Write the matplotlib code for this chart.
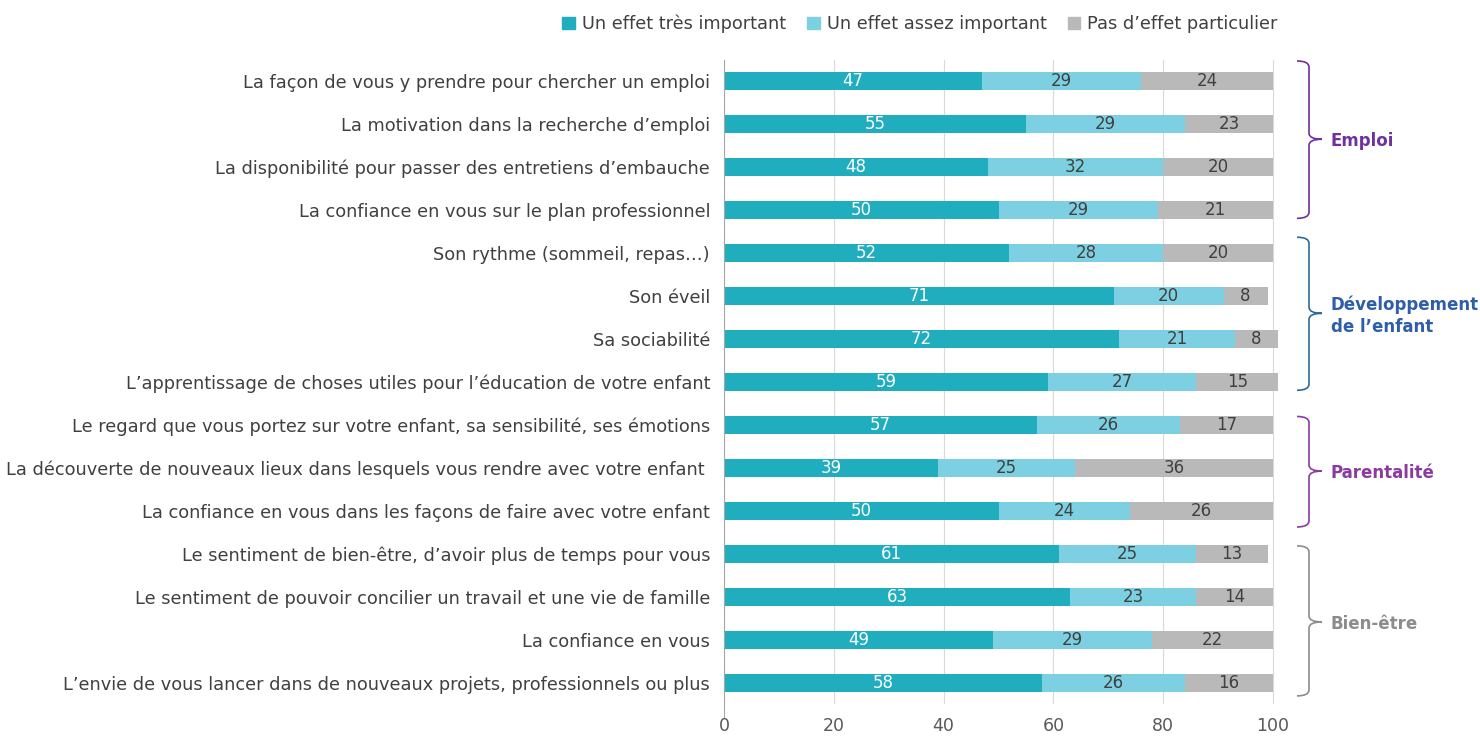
import matplotlib.pyplot as plt
import matplotlib.transforms as mtransforms
from matplotlib.path import Path
from matplotlib.patches import PathPatch, Patch

# Données
categories = [
    "La façon de vous y prendre pour chercher un emploi",
    "La motivation dans la recherche d\u2019emploi",
    "La disponibilité pour passer des entretiens d\u2019embauche",
    "La confiance en vous sur le plan professionnel",
    "Son rythme (sommeil, repas\u2026)",
    "Son éveil",
    "Sa sociabilité",
    "L\u2019apprentissage de choses utiles pour l\u2019éducation de votre enfant",
    "Le regard que vous portez sur votre enfant, sa sensibilité, ses émotions",
    "La découverte de nouveaux lieux dans lesquels vous rendre avec votre enfant ",
    "La confiance en vous dans les façons de faire avec votre enfant",
    "Le sentiment de bien-être, d\u2019avoir plus de temps pour vous",
    "Le sentiment de pouvoir concilier un travail et une vie de famille",
    "La confiance en vous",
    "L\u2019envie de vous lancer dans de nouveaux projets, professionnels ou plus",
]
tres_important = [47, 55, 48, 50, 52, 71, 72, 59, 57, 39, 50, 61, 63, 49, 58]
assez_important = [29, 29, 32, 29, 28, 20, 21, 27, 26, 25, 24, 25, 23, 29, 26]
pas_effet = [24, 16, 20, 21, 20, 8, 8, 15, 17, 36, 26, 13, 14, 22, 16]
# étiquettes affichées (la 2e ligne porte "23" dans l'original)
pas_effet_labels = [24, 23, 20, 21, 20, 8, 8, 15, 17, 36, 26, 13, 14, 22, 16]

series_names = ["Un effet très important", "Un effet assez important", "Pas d\u2019effet particulier"]
couleurs = ["#20adbe", "#7dd0e1", "#b9b9b9"]

# nom, haut, bas, pointe (en unités de lignes), couleur texte, couleur accolade
groupes = [("Emploi", -0.47, 3.19, 1.35, "#7030a0", "#7030a0"),
           ("Développement\nde l\u2019enfant", 3.63, 7.19, 5.4, "#2e5ea8", "#2e6b96"),
           ("Parentalité", 7.8, 10.37, 9.07, "#8b3aa0", "#8b3aa0"),
           ("Bien-être", 10.81, 14.3, 12.58, "#8c8c8c", "#8c8c8c")]

plt.rcParams['font.family'] = ['DejaVu Sans']

fig = plt.figure(figsize=(14.8, 7.38), dpi=100)
ax = fig.add_axes([724 / 1480, 0.0454, 554.5 / 1480, 0.8737])

y = list(range(len(categories)))
h = 0.42
ax.barh(y, tres_important, height=h, color=couleurs[0], zorder=3)
gauche2 = tres_important
ax.barh(y, assez_important, left=gauche2, height=h, color=couleurs[1], zorder=3)
gauche3 = [a + b for a, b in zip(tres_important, assez_important)]
ax.barh(y, pas_effet, left=gauche3, height=h, color=couleurs[2], zorder=3)

for i in y:
    ax.text(tres_important[i] / 2, i, str(tres_important[i]), ha='center', va='center',
            color='white', fontsize=12, zorder=4)
    ax.text(gauche2[i] + assez_important[i] / 2, i, str(assez_important[i]), ha='center',
            va='center', color='#404040', fontsize=12, zorder=4)
    ax.text(gauche3[i] + pas_effet[i] / 2, i, str(pas_effet_labels[i]), ha='center',
            va='center', color='#404040', fontsize=12, zorder=4)

ax.set_ylim(14.5, -0.5)
ax.set_xlim(0, 101)
ax.set_yticks(y)
ax.set_yticklabels(categories, fontsize=12.8, color='#404040')
ax.set_xticks([0, 20, 40, 60, 80, 100])
ax.tick_params(axis='y', length=0, pad=10)
ax.tick_params(axis='x', length=0, pad=9, labelsize=12.5, colors='#595959')
ax.grid(axis='x', color='#d9d9d9', linewidth=0.8, zorder=0)
for s in ['top', 'right', 'bottom']:
    ax.spines[s].set_visible(False)
ax.spines['left'].set_color('#a6a6a6')
ax.spines['left'].set_bounds(-0.5, 14.8)
ax.spines['left'].set_zorder(5)

# Accolades des groupes
tr = mtransforms.blended_transform_factory(fig.transFigure, ax.transData)
x0 = 1297 / 1480
x1 = 1309 / 1480
xt = 1322 / 1480
e = 0.14
for nom, top, bot, mid, c_txt, c_acc in groupes:
    verts = [(x0, top), (x1, top), (x1, top + e),
             (x1, mid - e), (x1, mid), (xt, mid),
             (x1, mid), (x1, mid + e),
             (x1, bot - e), (x1, bot), (x0, bot)]
    codes = [Path.MOVETO, Path.CURVE3, Path.CURVE3,
             Path.LINETO, Path.CURVE3, Path.CURVE3,
             Path.CURVE3, Path.CURVE3,
             Path.LINETO, Path.CURVE3, Path.CURVE3]
    patch = PathPatch(Path(verts, codes), transform=tr, fill=False,
                      edgecolor=c_acc, linewidth=1.2, clip_on=False)
    ax.add_patch(patch)
    ax.text(1331 / 1480, mid + 0.05, nom, transform=tr, ha='left', va='center',
            color=c_txt, fontsize=12, fontweight='bold', linespacing=1.3)

handles = [Patch(color=c) for c in couleurs]
fig.legend(handles, series_names, loc='center', bbox_to_anchor=(920 / 1480, 1 - 24 / 738),
           ncol=3, frameon=False, fontsize=12.8, handlelength=0.7, handleheight=0.7,
           handletextpad=0.4, columnspacing=1.2, labelcolor='#404040')

fig.savefig('out.png', dpi=100)
